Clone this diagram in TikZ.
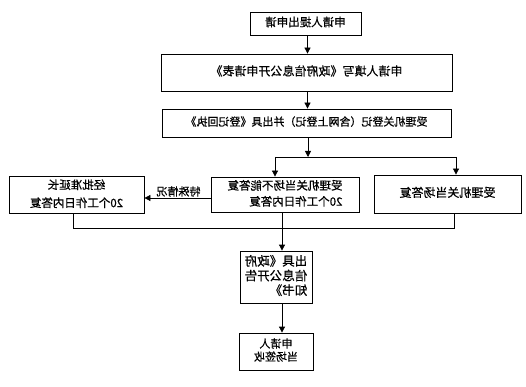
\documentclass[tikz,border=0pt]{standalone}
\usepackage{graphicx}
\usepackage{fontspec}
\setmainfont{Noto Sans CJK SC}[FakeBold=0.6]
\usetikzlibrary{arrows.meta}
\newcommand{\mir}[2][c]{\reflectbox{\begin{tabular}{@{}#1@{}}#2\end{tabular}}}
\tikzset{
  box/.style={draw, line width=0.8pt, inner sep=0pt, minimum width=#1},
  conn/.style={line width=0.8pt},
  arr/.style={line width=0.8pt, -{Triangle[length=6pt,width=6pt]}},
}
\begin{document}
\begin{tikzpicture}[x=1pt,y=-1pt]
\useasboundingbox (0,0) rectangle (526,387);
\node[box=111pt, minimum height=23pt, font=\fontsize{11.5}{13}\selectfont] (b1) at (305.5,23.5) {\mir{申请人提出申请}};
\node[box=291pt, minimum height=37pt, font=\fontsize{12}{14}\selectfont] (b2) at (306.5,72.5) {\mir{申请人填写《政府信息公开申请表》}};
\node[box=289pt, minimum height=28pt, font=\fontsize{11}{13}\selectfont] (b3) at (306.5,123) {\mir{受理机关登记（含网上登记）并出具《登记回执》}};
\node[box=148pt, minimum height=35pt, font=\fontsize{11.5}{16}\selectfont] (mid) at (285,194.5) {\mir[l]{受理机关当场不能答复\\20个工作日内答复}};
\node[box=147pt, minimum height=38pt, font=\fontsize{12}{14}\selectfont] (rgt) at (447.5,194) {\mir{受理机关当场答复}};
\node[box=135pt, minimum height=37pt, font=\fontsize{11.5}{18}\selectfont] (lft) at (76.5,194.5) {\mir{经批准延长\\20个工作日内答复}};
\node[box=72pt, minimum height=52pt, font=\fontsize{12.5}{13.5}\selectfont] (b4) at (276,277) {\mir[l]{出具《政府\\信息公开告\\知书》}};
\node[box=74pt, minimum height=37pt, font=\fontsize{11}{12.5}\selectfont] (b5) at (276,351.5) {\mir{申请人\\当场签收}};
\node[font=\fontsize{11}{13}\selectfont, inner sep=0pt] (lbl) at (178.5,191.5) {\reflectbox{特殊情况}};

\coordinate (j1) at (308,157);
\coordinate (jL) at (275,157);
\coordinate (jR) at (456,157);
\coordinate (kL) at (73,228);
\coordinate (kM) at (282,228);
\coordinate (kR) at (454,228);

\draw[arr] (b1.south -| 307.5,0) -- (b2.north -| 307.5,0);
\draw[arr] (b2.south -| 307.5,0) -- (b3.north -| 307.5,0);
\draw[arr] (b3.south -| j1) -- (j1);
\draw[conn] (jL) -- (jR);
\draw[arr] (jL) -- (jL |- mid.north);
\draw[arr] (jR) -- (jR |- rgt.north);
\draw[arr] (mid.west |- 0,198) -- (lft.east |- 0,198);
\draw[conn] (kL |- lft.south) -- (kL) -- (kR) -- (kR |- rgt.south);
\draw[conn] (kM |- mid.south) -- (kM);
\draw[arr] (kM) -- (kM |- b4.north);
\draw[arr] (b4.south -| kM) -- (b5.north -| kM);
\end{tikzpicture}
\end{document}
